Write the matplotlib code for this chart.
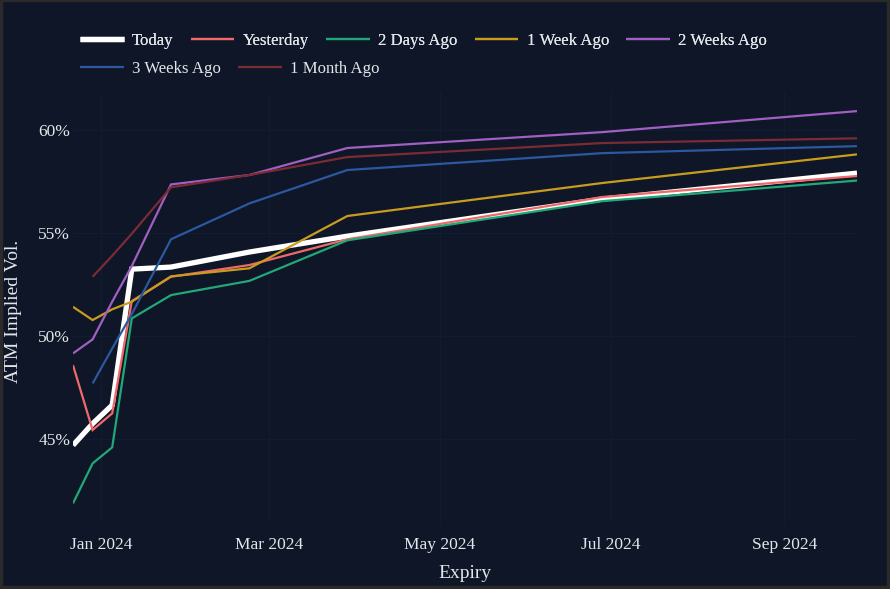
import numpy as np
import pandas as pd
import matplotlib
matplotlib.use("Agg")
import matplotlib.pyplot as plt
import matplotlib.dates as mdates
from matplotlib.ticker import FuncFormatter
from matplotlib.patches import Rectangle

expiries = ["2023-12-22", "2023-12-29", "2024-01-05", "2024-01-12", "2024-01-26",
            "2024-02-23", "2024-03-29", "2024-06-28", "2024-09-27"]

today      = [44.70, 45.75, 46.65, 53.25, 53.35, 54.08, 54.85, 56.65, 57.91]
yesterday  = [48.59, 45.44, 46.25, 51.70, 52.88, 53.45, 54.70, 56.75, 57.77]
days2      = [41.88, 43.82, 44.60, 50.86, 51.99, 52.68, 54.65, 56.55, 57.55]
week1      = [51.42, 50.78, 51.30, 51.67, 52.90, 53.29, 55.83, 57.43, 58.82]
weeks2     = [49.16, 49.84, 51.67, 53.40, 57.36, 57.82, 59.13, 59.90, 60.92]
weeks3     = [np.nan, 47.70, 49.40, 51.07, 54.70, 56.44, 58.06, 58.88, 59.22]
month1     = [np.nan, 52.88, 53.90, 54.97, 57.22, 57.82, 58.69, 59.37, 59.60]

series_names = ["Today", "Yesterday", "2 Days Ago", "1 Week Ago", "2 Weeks Ago",
                "3 Weeks Ago", "1 Month Ago"]
series_vals = [today, yesterday, days2, week1, weeks2, weeks3, month1]
colors = ["#ffffff", "#ee6a6a", "#22a878", "#c89c1e", "#a060c2", "#2b589e", "#7c2b35"]
widths = [3.8, 1.6, 1.6, 1.6, 1.6, 1.6, 1.6]

BG = "#0e1628"
FG = "#e4e6ea"
GRID = "#131c2f"
FONT = ["Liberation Serif", "DejaVu Serif"]

plt.rcParams["font.family"] = FONT

W, H = 890, 589
fig = plt.figure(figsize=(W / 100, H / 100), dpi=100, facecolor=BG)
ax = fig.add_axes([73 / W, 1 - 523 / H, (857 - 73) / W, (523 - 91.5) / H])
ax.set_facecolor(BG)

x = pd.to_datetime(expiries)
handles = []
for name, vals, c, lw in zip(series_names, series_vals, colors, widths):
    h, = ax.plot(x, np.array(vals, dtype=float), color=c, lw=lw, label=name,
                 solid_joinstyle="miter", solid_capstyle="butt")
    handles.append(h)

ax.margins(x=0, y=0.05)

ax.xaxis.set_major_locator(mdates.MonthLocator(bymonth=[1, 3, 5, 7, 9]))
ax.xaxis.set_major_formatter(mdates.DateFormatter("%b %Y"))
ax.set_yticks([45, 50, 55, 60])
ax.yaxis.set_major_formatter(FuncFormatter(lambda v, p: f"{v:.0f}%"))

ax.grid(True, color=GRID, lw=1)
ax.set_axisbelow(True)
for s in ax.spines.values():
    s.set_visible(False)
ax.tick_params(axis="both", length=0, colors=FG, labelsize=12.5)
ax.tick_params(axis="x", pad=10)
ax.tick_params(axis="y", pad=2)

fig.text(465 / W, 1 - 573 / H, "Expiry", color=FG, fontsize=14,
         ha="center", va="center")
fig.text(14 / W, 1 - 311 / H, "ATM Implied Vol.", color=FG, fontsize=14,
         ha="center", va="center", rotation=90)

leg_kw = dict(frameon=False, fontsize=12.1, labelcolor=FG, handlelength=2.6,
              handletextpad=0.5, columnspacing=1.02, borderpad=0, borderaxespad=0,
              loc="center left")
leg1 = fig.legend(handles[:5], series_names[:5], ncol=5,
                  bbox_to_anchor=(80 / W, 1 - 41 / H), **leg_kw)
leg2 = fig.legend(handles[5:], series_names[5:], ncol=2,
                  bbox_to_anchor=(80 / W, 1 - 69 / H), **leg_kw)
fig.add_artist(leg1)

# thin outer frame
frame = "#2a2a28"
fig.patches.extend([
    Rectangle((0, 0), 2 / W, 1, transform=fig.transFigure, color=frame, zorder=10),
    Rectangle((0, 1 - 1 / H), 1, 1 / H, transform=fig.transFigure, color=frame, zorder=10),
    Rectangle((1 - 3 / W, 0), 3 / W, 1, transform=fig.transFigure, color=frame, zorder=10),
    Rectangle((0, 0), 1, 3 / H, transform=fig.transFigure, color=frame, zorder=10),
])

fig.savefig("out.png", dpi=100, facecolor=BG)
